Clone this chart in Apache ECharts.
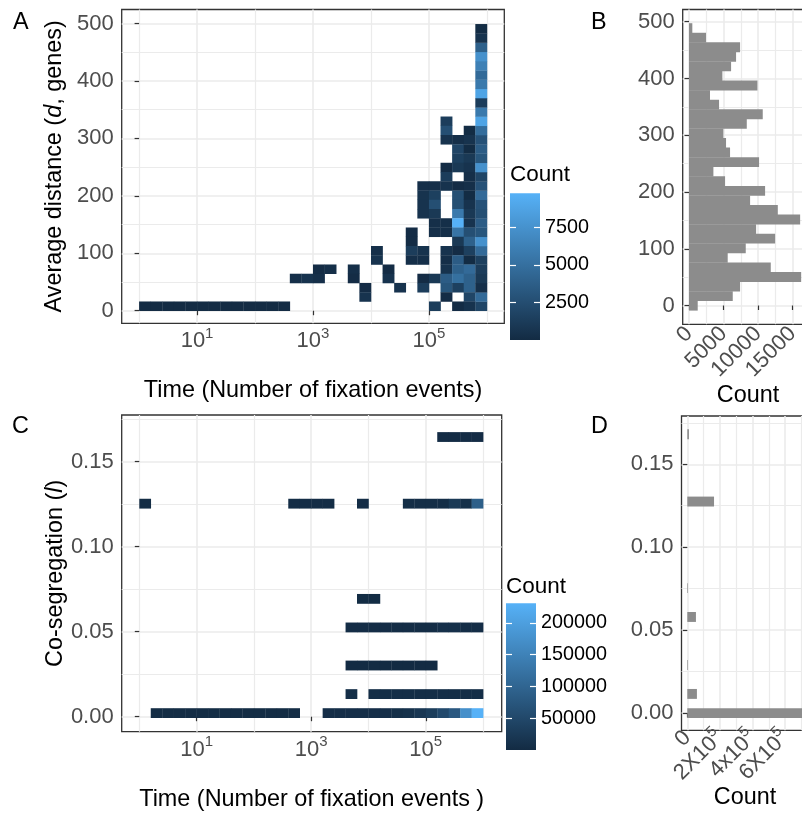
<!DOCTYPE html>
<html>
<head>
<meta charset="utf-8">
<script src="https://cdn.jsdelivr.net/npm/echarts@6/dist/echarts.min.js"></script>
<style>
html, body { margin: 0; padding: 0; background: #fff; }
#main { width: 802px; height: 817px; }
</style>
</head>
<body>
<div id="main"></div>
<script>
// ---- panel A: 2d bins of log10(time) x distance, [xBin, yBin, count]
var aXBin = 0.2;
var aYBin = 16.1;
var aCountRange = [1, 9750];
var aCells = [
    [0, 0, 80], [1, 0, 80], [2, 0, 80], [3, 0, 80], [4, 0, 80], [5, 0, 80], [6, 0, 80],
    [7, 0, 80], [8, 0, 80], [9, 0, 80], [10, 0, 80], [11, 0, 80], [12, 0, 80],
    [13, 3, 300], [14, 3, 600], [15, 4, 100], [15, 3, 300], [16, 4, 300],
    [18, 4, 300], [18, 3, 100], [19, 2, 100], [19, 1, 600], [20, 6, 300], [20, 5, 600],
    [21, 4, 100], [21, 3, 600], [22, 2, 600],
    [23, 8, 100], [23, 7, 100], [23, 6, 1300], [23, 5, 300],
    [24, 13, 300], [24, 12, 600], [24, 11, 600], [24, 10, 600], [24, 6, 600], [24, 5, 300],
    [24, 3, 100], [24, 2, 1300],
    [25, 13, 300], [25, 12, 1500], [25, 11, 2600], [25, 10, 1000], [25, 9, 300], [25, 8, 300],
    [25, 3, 1000], [25, 0, 1300],
    [26, 20, 1300], [26, 19, 2600], [26, 18, 600], [26, 15, 100], [26, 14, 1300], [26, 13, 600],
    [26, 9, 300], [26, 8, 300], [26, 6, 600], [26, 5, 300], [26, 4, 600], [26, 3, 3600],
    [26, 2, 3100], [26, 1, 100],
    [27, 18, 300], [27, 17, 1900], [27, 16, 1500], [27, 15, 1000], [27, 13, 100], [27, 12, 2600],
    [27, 11, 2600], [27, 10, 5700], [27, 9, 9750], [27, 8, 5300], [27, 7, 1000], [27, 6, 100],
    [27, 5, 3600], [27, 4, 3900], [27, 3, 5000], [27, 2, 1500], [27, 0, 100],
    [28, 19, 60], [28, 18, 600], [28, 17, 60], [28, 16, 1000], [28, 15, 600], [28, 14, 300],
    [28, 13, 300], [28, 12, 60], [28, 11, 600], [28, 10, 1000], [28, 9, 600], [28, 8, 2600],
    [28, 7, 3900], [28, 6, 1500], [28, 5, 60], [28, 4, 4600], [28, 3, 3900], [28, 2, 3900],
    [28, 1, 1900], [28, 0, 600],
    [29, 0, 1900], [29, 1, 4600], [29, 2, 300], [29, 3, 1000], [29, 4, 1300], [29, 5, 1500],
    [29, 6, 4600], [29, 7, 7400], [29, 8, 3100], [29, 9, 3600], [29, 10, 2600], [29, 11, 2800],
    [29, 12, 4600], [29, 13, 2800], [29, 14, 1900], [29, 15, 7400], [29, 16, 3100], [29, 17, 3600],
    [29, 18, 2800], [29, 19, 4800], [29, 20, 8800], [29, 21, 5700], [29, 22, 1300], [29, 23, 8800],
    [29, 24, 5700], [29, 25, 4600], [29, 26, 6200], [29, 27, 7400], [29, 28, 3900], [29, 29, 600],
    [29, 30, 60]
];

// ---- panel B: histogram of distance, bins centred on i * bBin (bottom to top)
var bBin = 16.86;
var bCounts = [1260, 6330, 7390, 16230, 11830, 5600, 8210, 12460, 9710, 16080,
    12850, 8840, 11010, 5220, 3530, 10140, 5940, 5360, 4970, 8360,
    10670, 4350, 3040, 9900, 4830, 6090, 6810, 7390, 2460, 480];

// ---- panel C: 2d bins of log10(time) x co-segregation
var cXBin = 0.2;
var cYBin = 0.0056;
var cYOrigin = -0.0006;
var cCountRange = [1, 231000];
var cCells = [
    [1, 0, 3000], [2, 0, 3000], [3, 0, 3000], [4, 0, 3000], [5, 0, 3000], [6, 0, 3000],
    [7, 0, 3000], [8, 0, 3000], [9, 0, 3000], [10, 0, 3000], [11, 0, 3000], [12, 0, 3000],
    [13, 0, 3000], [16, 0, 6000], [17, 0, 6000], [18, 0, 6000], [19, 0, 6000], [20, 0, 6000],
    [21, 0, 6000], [22, 0, 8000], [23, 0, 12000], [24, 0, 20000], [25, 0, 32000],
    [26, 0, 52000], [27, 0, 78000], [28, 0, 173000], [29, 0, 231000],
    [18, 2, 5000], [20, 2, 5000], [21, 2, 5000], [22, 2, 5000], [23, 2, 5000], [24, 2, 5000],
    [25, 2, 5000], [26, 2, 5000], [27, 2, 5000], [28, 2, 5000], [29, 2, 5000],
    [18, 5, 500], [19, 5, 500], [20, 5, 500], [21, 5, 500], [22, 5, 500], [23, 5, 500],
    [24, 5, 500], [25, 5, 500],
    [18, 9, 3500], [19, 9, 3500], [20, 9, 3500], [21, 9, 3500], [22, 9, 3500], [23, 9, 3500],
    [24, 9, 3500], [25, 9, 3500], [26, 9, 9000], [27, 9, 9000], [28, 9, 4000], [29, 9, 4000],
    [19, 12, 1500], [20, 12, 1500],
    [0, 22, 3000], [13, 22, 4000], [14, 22, 4000], [15, 22, 4000], [16, 22, 4000], [19, 22, 4000],
    [23, 22, 5000], [24, 22, 5000], [25, 22, 5000], [26, 22, 5000], [27, 22, 25000],
    [28, 22, 8000], [29, 22, 90000],
    [26, 29, 2500], [27, 29, 2500], [28, 29, 2500], [29, 29, 2500]
];

// ---- panel D: histogram of co-segregation, [bin index, count], bins centred on i * dBin
var dBin = 0.0058;
var dBars = [[0, 720000], [2, 59000], [5, 4000], [10, 53000], [13, 4000], [22, 164000], [29, 10000]];

// ---- tick values
var logMajor = [1, 3, 5];
var logMinor = [0, 2, 4, 6];
var distMajor = [0, 100, 200, 300, 400, 500];
var distMinor = [50, 150, 250, 350, 450];
var cosegMajor = [0, 0.05, 0.10, 0.15];
var cosegMinor = [0.025, 0.075, 0.125, 0.175];
var bCountMajor = [0, 5000, 10000, 15000];
var bCountMinor = [2500, 7500, 12500, 17500];
var dCountMajor = [0, 200000, 400000, 600000];
var dCountMinor = [100000, 300000, 500000, 700000];
var dCountText = ['0', '2X10', '4x10', '6X10'];
var aBarTicks = [2500, 5000, 7500];
var cBarTicks = [50000, 100000, 150000, 200000];

var FONT = "'Liberation Sans', Arial, Helvetica, sans-serif";
var LOW = '#132B43';
var HIGH = '#56B1F7';
var TICK_GREY = '#4D4D4D';

var supRich = {
    b: {fontFamily: FONT, fontSize: 22, color: TICK_GREY, lineHeight: 30},
    s: {fontFamily: FONT, fontSize: 15, color: TICK_GREY, lineHeight: 16, verticalAlign: 'top'}
};

function mainAxis(grid, pos, min, max, major, label, extra) {
    var ax = {
        type: 'value', gridIndex: grid, position: pos, min: min, max: max,
        axisLine: {show: false},
        axisTick: {show: true, customValues: major, length: 4.5,
            lineStyle: {color: '#333333', width: 1.2}},
        axisLabel: Object.assign({customValues: major, margin: 8, fontFamily: FONT,
            fontSize: 22, color: TICK_GREY, hideOverlap: false,
            showMinLabel: true, showMaxLabel: true}, label || {}),
        splitLine: {show: true, lineStyle: {color: '#EBEBEB', width: 1.6}},
        nameTextStyle: {fontFamily: FONT, fontSize: 23.4, color: '#000'}
    };
    return Object.assign(ax, extra || {});
}

function minorAxis(grid, pos, min, max, minor) {
    return {
        type: 'value', gridIndex: grid, position: pos, min: min, max: max,
        axisLine: {show: false}, axisLabel: {show: false},
        axisTick: {show: false, customValues: minor},
        splitLine: {show: true, lineStyle: {color: '#EBEBEB', width: 1.2}}
    };
}

// label-only axis, used to split crowded rotated labels over two axes
function labelAxis(grid, pos, min, max, values, label) {
    return {
        type: 'value', gridIndex: grid, position: pos, min: min, max: max,
        axisLine: {show: false}, splitLine: {show: false},
        axisTick: {show: false, customValues: values},
        axisLabel: Object.assign({customValues: values, fontFamily: FONT, fontSize: 22,
            color: TICK_GREY, hideOverlap: false, showMinLabel: true, showMaxLabel: true}, label)
    };
}

function barAxis(grid, pos, range, ticks, withLabels) {
    return {
        type: 'value', gridIndex: grid, position: pos, min: range[0], max: range[1], z: 10,
        axisLine: {show: false},
        axisTick: {show: true, inside: true, customValues: ticks, length: 6,
            lineStyle: {color: '#fff', width: 1.2}},
        axisLabel: {show: withLabels, customValues: ticks, margin: 5, fontFamily: FONT,
            fontSize: 19.8, color: '#000', hideOverlap: false,
            formatter: function (v) { return String(v); }},
        splitLine: {show: false}
    };
}

function cellItem(xw, yw, y0) {
    return function (params, api) {
        var xb = api.value(0);
        var yb = api.value(1);
        var p0 = api.coord([xb * xw, y0 + yb * yw]);
        var p1 = api.coord([(xb + 1) * xw, y0 + (yb + 1) * yw]);
        return {
            type: 'rect',
            shape: {x: p0[0], y: p1[1], width: p1[0] - p0[0] + 0.3, height: p0[1] - p1[1] + 0.3},
            style: {fill: api.visual('color')}
        };
    };
}

function histItem(w) {
    return function (params, api) {
        var c = api.value(0) * w;
        var p0 = api.coord([0, c - w / 2]);
        var p1 = api.coord([api.value(1), c + w / 2]);
        return {
            type: 'rect',
            shape: {x: p0[0], y: p1[1], width: p1[0] - p0[0], height: p0[1] - p1[1] + 0.3},
            style: {fill: '#8C8C8C'}
        };
    };
}

function colourBar(range) {
    return function (params, api) {
        var p0 = api.coord([0, range[0]]);
        var p1 = api.coord([1, range[1]]);
        return {
            type: 'rect',
            shape: {x: p0[0], y: p1[1], width: p1[0] - p0[0], height: p0[1] - p1[1]},
            style: {fill: new echarts.graphic.LinearGradient(0, 1, 0, 0,
                [{offset: 0, color: LOW}, {offset: 1, color: HIGH}])}
        };
    };
}

var frame = {show: true, borderColor: '#333333', borderWidth: 1.3, backgroundColor: '#fff',
    outerBoundsMode: 'none'};

var logLabel = {
    margin: 3,
    formatter: function (v) { return '{b|10}{s|' + v + '}'; },
    rich: supRich
};

var dLabel = {
    rotate: 45, margin: 4, rich: supRich,
    formatter: function (v) {
        var k = dCountMajor.indexOf(v);
        return k === 0 ? '{b|0}' : '{b|' + dCountText[k] + '}{s|5}';
    }
};

var chart = echarts.init(document.getElementById('main'), null, {renderer: 'canvas'});

chart.setOption({
    animation: false,
    backgroundColor: '#fff',
    textStyle: {fontFamily: FONT},
    grid: [
        Object.assign({left: 121.7, top: 9.5, width: 382.6, height: 313.8}, frame),
        {left: 510, top: 193.3, width: 30, height: 146.7, outerBoundsMode: 'none'},
        Object.assign({left: 682.7, top: 9.5, width: 130.6, height: 314.8}, frame),
        Object.assign({left: 121.7, top: 415, width: 380, height: 316.7}, frame),
        {left: 506, top: 603.3, width: 30, height: 146.7, outerBoundsMode: 'none'},
        Object.assign({left: 681.5, top: 416, width: 127, height: 314.3}, frame)
    ],
    xAxis: [
        mainAxis(0, 'bottom', -0.3, 6.3, logMajor, logLabel, {
            name: 'Time (Number of fixation events)', nameLocation: 'middle', nameGap: 56
        }),
        minorAxis(0, 'top', -0.3, 6.3, logMinor),
        {type: 'value', gridIndex: 1, min: 0, max: 1, show: false},
        mainAxis(2, 'bottom', -912, 17985, bCountMajor, {
            rotate: 45, margin: 6, formatter: function (v) { return String(v); }
        }, {name: 'Count', nameLocation: 'middle', nameGap: 54}),
        minorAxis(2, 'top', -912, 17985, bCountMinor),
        mainAxis(3, 'bottom', -0.307, 6.325, logMajor, logLabel, {
            name: 'Time (Number of fixation events )', nameLocation: 'middle', nameGap: 56
        }),
        minorAxis(3, 'top', -0.307, 6.325, logMinor),
        {type: 'value', gridIndex: 4, min: 0, max: 1, show: false},
        mainAxis(5, 'bottom', -35583, 743558, dCountMajor,
            Object.assign({}, dLabel, {customValues: [dCountMajor[0], dCountMajor[2]]}),
            {name: 'Count', nameLocation: 'middle', nameGap: 56}),
        minorAxis(5, 'top', -35583, 743558, dCountMinor),
        labelAxis(5, 'bottom', -35583, 743558, [dCountMajor[1], dCountMajor[3]], dLabel)
    ],
    yAxis: [
        mainAxis(0, 'left', -21.9, 524.4, distMajor, null, {
            name: '{n|Average distance (}{i|d}{n|, genes)}',
            nameLocation: 'middle', nameRotate: 90, nameGap: 56,
            nameTextStyle: {rich: {
                n: {fontFamily: FONT, fontSize: 23.4, color: '#000'},
                i: {fontFamily: FONT, fontSize: 23.4, color: '#000', fontStyle: 'italic'}
            }}
        }),
        minorAxis(0, 'right', -21.9, 524.4, distMinor),
        barAxis(1, 'left', aCountRange, aBarTicks, false),
        barAxis(1, 'right', aCountRange, aBarTicks, true),
        mainAxis(2, 'left', -33.1, 521.5, distMajor),
        minorAxis(2, 'right', -33.1, 521.5, distMinor),
        mainAxis(3, 'left', -0.00882, 0.17747, cosegMajor, {
            formatter: function (v) { return v.toFixed(2); }
        }, {
            name: '{n|Co-segregation (}{i|l}{n|)}',
            nameLocation: 'middle', nameRotate: 90, nameGap: 55,
            nameTextStyle: {rich: {
                n: {fontFamily: FONT, fontSize: 23.4, color: '#000'},
                i: {fontFamily: FONT, fontSize: 23.4, color: '#000', fontStyle: 'italic'}
            }}
        }),
        minorAxis(3, 'right', -0.00882, 0.17747, cosegMinor),
        barAxis(4, 'left', cCountRange, cBarTicks, false),
        barAxis(4, 'right', cCountRange, cBarTicks, true),
        mainAxis(5, 'left', -0.01043, 0.1791, cosegMajor, {
            formatter: function (v) { return v.toFixed(2); }
        }),
        minorAxis(5, 'right', -0.01043, 0.1791, cosegMinor)
    ],
    visualMap: [
        {type: 'continuous', show: false, seriesIndex: 0, dimension: 2,
            min: aCountRange[0], max: aCountRange[1], inRange: {color: [LOW, HIGH]}},
        {type: 'continuous', show: false, seriesIndex: 3, dimension: 2,
            min: cCountRange[0], max: cCountRange[1], inRange: {color: [LOW, HIGH]}}
    ],
    series: [
        {type: 'custom', coordinateSystem: 'cartesian2d', xAxisIndex: 0, yAxisIndex: 0,
            renderItem: cellItem(aXBin, aYBin, 0), data: aCells, encode: {x: 0, y: 1}},
        {type: 'custom', coordinateSystem: 'cartesian2d', xAxisIndex: 2, yAxisIndex: 3,
            renderItem: colourBar(aCountRange), data: [[0, aCountRange[0]]], silent: true},
        {type: 'custom', coordinateSystem: 'cartesian2d', xAxisIndex: 3, yAxisIndex: 4,
            renderItem: histItem(bBin), encode: {x: 1, y: 0},
            data: bCounts.map(function (n, i) { return [i, n]; })},
        {type: 'custom', coordinateSystem: 'cartesian2d', xAxisIndex: 5, yAxisIndex: 6,
            renderItem: cellItem(cXBin, cYBin, cYOrigin), data: cCells, encode: {x: 0, y: 1}},
        {type: 'custom', coordinateSystem: 'cartesian2d', xAxisIndex: 7, yAxisIndex: 9,
            renderItem: colourBar(cCountRange), data: [[0, cCountRange[0]]], silent: true},
        {type: 'custom', coordinateSystem: 'cartesian2d', xAxisIndex: 8, yAxisIndex: 10,
            renderItem: histItem(dBin), encode: {x: 1, y: 0}, data: dBars}
    ],
    graphic: [
        {type: 'text', x: 13, y: 23, style: {text: 'A', fontFamily: FONT, fontSize: 23.4, fill: '#000', verticalAlign: 'middle'}},
        {type: 'text', x: 591, y: 23, style: {text: 'B', fontFamily: FONT, fontSize: 23.4, fill: '#000', verticalAlign: 'middle'}},
        {type: 'text', x: 12, y: 427, style: {text: 'C', fontFamily: FONT, fontSize: 23.4, fill: '#000', verticalAlign: 'middle'}},
        {type: 'text', x: 591, y: 427, style: {text: 'D', fontFamily: FONT, fontSize: 23.4, fill: '#000', verticalAlign: 'middle'}},
        {type: 'text', x: 510, y: 175, style: {text: 'Count', fontFamily: FONT, fontSize: 22.5, fill: '#000', verticalAlign: 'middle'}},
        {type: 'text', x: 506, y: 586.5, style: {text: 'Count', fontFamily: FONT, fontSize: 22.5, fill: '#000', verticalAlign: 'middle'}}
    ]
});
</script>
</body>
</html>
